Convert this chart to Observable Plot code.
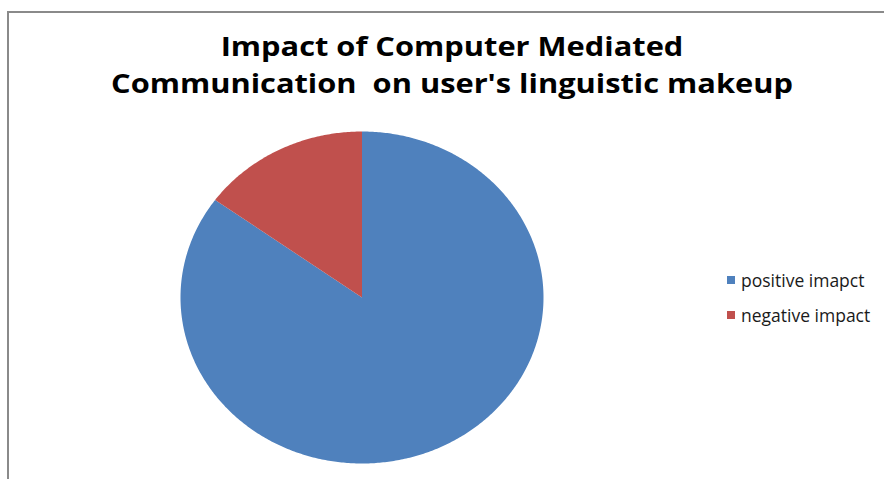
<!DOCTYPE html>
<html>
<head>
<meta charset="utf-8">
<script src="https://cdn.jsdelivr.net/npm/d3@7"></script>
<script src="https://cdn.jsdelivr.net/npm/@observablehq/plot@0.6"></script>
<style>
  html, body { margin: 0; padding: 0; background: #fff; }
  #wrap { position: relative; width: 884px; height: 479px; overflow: hidden; font-family: "Open Sans", sans-serif; }
  #frame { position: absolute; left: 7px; top: 11px; width: 900px; height: 500px; border-left: 2px solid #8a8a8a; border-top: 2px solid #8a8a8a; }
  .tline { position: absolute; left: 0; width: 904px; text-align: center; font-weight: bold; font-size: 30.8px; line-height: normal; color: #000; white-space: nowrap; transform: scaleY(0.87); transform-origin: 50% 0; }
  #t1 { top: 27px; }
  #t2 { top: 64px; }
  #chart { position: absolute; left: 0; top: 0; }
  #legend { position: absolute; left: 727px; top: 262px; font-size: 17.5px; color: #1a1a1a; }
  .item { display: flex; align-items: center; height: 35px; white-space: nowrap; }
  .sw { width: 8px; height: 8px; margin-right: 6px; flex: none; }
</style>
</head>
<body>
<div id="wrap">
  <div id="frame"></div>
  <div class="tline" id="t1">Impact of Computer Mediated</div>
  <div class="tline" id="t2">Communication&nbsp; on user's linguistic makeup</div>
  <div id="chart"></div>
  <div id="legend"></div>
</div>
<script>
const categories = ["positive imapct", "negative impact"];
const values = [85, 15];
const colors = ["#4F81BD", "#C0504D"];

const data = categories.map((c, i) => ({category: c, value: values[i]}));
const arcs = d3.pie().sort(null).value(d => d.value)(data);

// build wedge outlines (unit circle) from pie angles
const pts = [];
arcs.forEach(a => {
  const name = a.data.category;
  pts.push({category: name, x: 0, y: 0});
  const n = Math.max(2, Math.ceil((a.endAngle - a.startAngle) / 0.01));
  for (let k = 0; k <= n; k++) {
    const t = a.startAngle + (a.endAngle - a.startAngle) * k / n;
    pts.push({category: name, x: Math.sin(t), y: Math.cos(t)});
  }
});

const chart = Plot.plot({
  width: 884,
  height: 479,
  margin: 0,
  x: {domain: [-1, 1], range: [180, 543], axis: null},
  y: {domain: [-1, 1], range: [463, 131], axis: null},
  color: {domain: categories, range: colors},
  style: {background: "transparent"},
  marks: [
    Plot.line(pts, {x: "x", y: "y", z: "category", fill: "category", stroke: "none", curve: "linear-closed"})
  ]
});
document.getElementById("chart").appendChild(chart);

const legend = document.getElementById("legend");
categories.forEach((c, i) => {
  const item = document.createElement("div");
  item.className = "item";
  const sw = document.createElement("span");
  sw.className = "sw";
  sw.style.background = colors[i];
  const tx = document.createElement("span");
  tx.textContent = c;
  item.appendChild(sw);
  item.appendChild(tx);
  legend.appendChild(item);
});
</script>
</body>
</html>
